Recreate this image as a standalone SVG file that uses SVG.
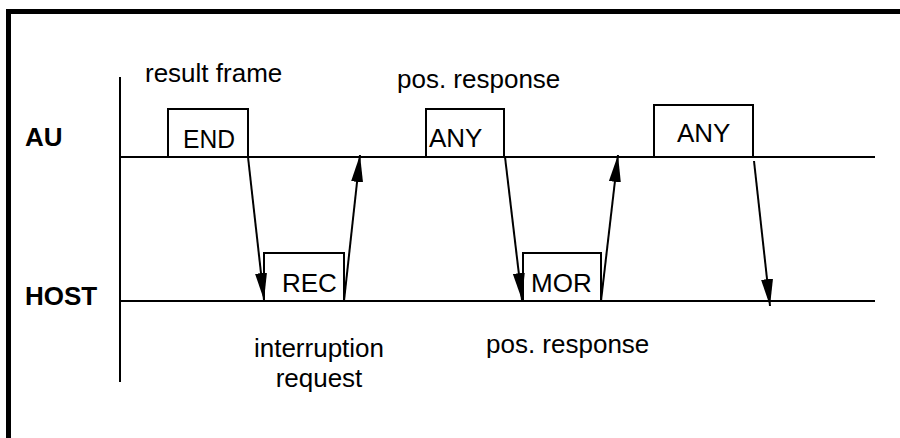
<svg xmlns="http://www.w3.org/2000/svg" width="900" height="438" viewBox="0 0 900 438">
  <style>
    text { font-family: "Liberation Sans", Arial, sans-serif; font-size: 26px; fill: #000; }
    .lane { font-weight: bold; }
    .box { fill: #fff; stroke: #000; stroke-width: 2; }
    .axis { stroke: #000; stroke-width: 2; fill: none; }
    .msg { stroke: #000; stroke-width: 2; fill: none; marker-end: url(#head); }
  </style>
  <defs>
    <marker id="head" markerUnits="userSpaceOnUse" markerWidth="28" markerHeight="14" refX="27" refY="7" orient="auto">
      <path d="M0,1 L27,7 L0,13 z" fill="#000"/>
    </marker>
  </defs>
  <rect x="0" y="0" width="900" height="438" fill="#fff"/>

  <!-- outer frame -->
  <path d="M8.5,438 V11.5 H900" fill="none" stroke="#000" stroke-width="5"/>

  <!-- time axis and lanes -->
  <g id="axes">
    <line class="axis" x1="120" y1="77" x2="120" y2="382"/>
    <line class="axis" x1="120" y1="157" x2="875" y2="157"/>
    <line class="axis" x1="120" y1="301" x2="875" y2="301"/>
  </g>

  <g id="lane-au"><text class="lane" x="25" y="146">AU</text></g>
  <g id="lane-host"><text class="lane" x="25" y="305">HOST</text></g>

  <g id="frame-end">
    <rect class="box" x="168" y="109" width="80" height="48"/>
    <text x="183" y="148" textLength="52" lengthAdjust="spacingAndGlyphs">END</text>
  </g>
  <g id="frame-rec">
    <rect class="box" x="264" y="253" width="80" height="48"/>
    <text x="282" y="292">REC</text>
  </g>
  <g id="frame-any1">
    <rect class="box" x="426" y="109" width="78" height="48"/>
    <text x="429" y="147">ANY</text>
  </g>
  <g id="frame-mor">
    <rect class="box" x="523" y="253" width="78" height="48"/>
    <text x="531" y="292">MOR</text>
  </g>
  <g id="frame-any2">
    <rect class="box" x="654" y="105" width="99" height="52"/>
    <text x="677" y="142">ANY</text>
  </g>

  <g id="labels">
    <text x="145" y="82">result frame</text>
    <text x="397" y="88">pos. response</text>
    <text x="319" y="357" text-anchor="middle">interruption</text>
    <text x="319" y="387" text-anchor="middle">request</text>
    <text x="486" y="353">pos. response</text>
  </g>

  <g id="connectors">
    <line class="msg" x1="248" y1="157" x2="264" y2="300"/>
    <line class="msg" x1="344" y1="301" x2="360" y2="155"/>
    <line class="msg" x1="505" y1="157" x2="522" y2="300"/>
    <line class="msg" x1="601" y1="301" x2="618" y2="155"/>
    <line class="msg" x1="754" y1="161" x2="770" y2="306"/>
  </g>
</svg>
